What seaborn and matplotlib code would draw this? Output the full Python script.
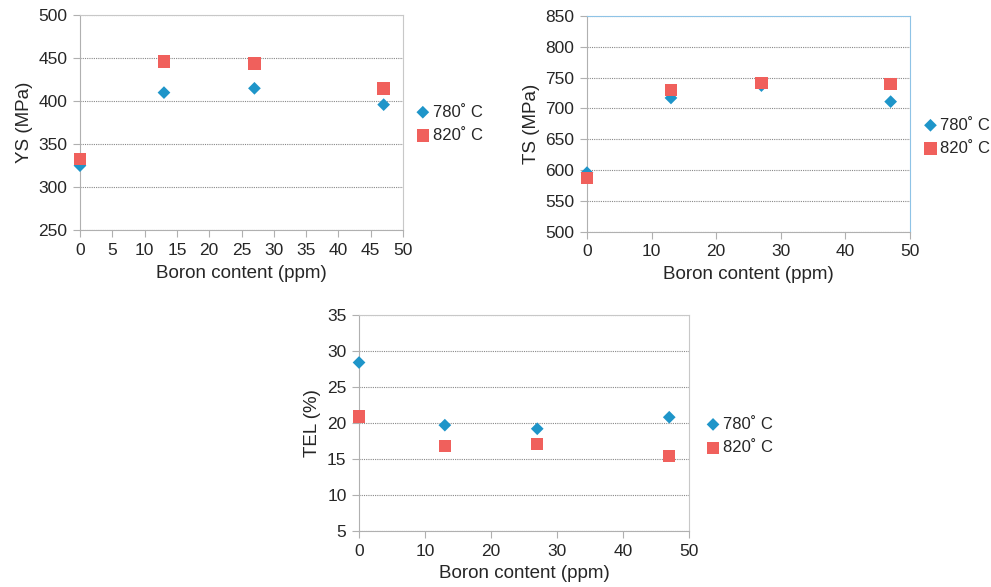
import matplotlib.pyplot as plt
import pandas as pd
import seaborn as sns

# данные с графика
boron = [0, 13, 27, 47]
temps = ['780˚ C', '820˚ C']

ys_780 = [325, 410, 415, 396]
ys_820 = [333, 446, 444, 415]
ts_780 = [596, 717, 737, 711]
ts_820 = [587, 730, 741, 740]
tel_780 = [28.4, 19.7, 19.2, 20.8]
tel_820 = [20.9, 16.8, 17.1, 15.4]

colors = {temps[0]: '#1E95C9', temps[1]: '#F0605C'}
markers = {temps[0]: 'D', temps[1]: 's'}
sizes = {temps[0]: 42, temps[1]: 80}


def make_df(a, b):
    return pd.DataFrame({
        'boron': boron + boron,
        'val': a + b,
        'temp': [temps[0]] * len(a) + [temps[1]] * len(b),
    })


sns.set_style('white')
plt.rcParams['font.family'] = ['Liberation Sans', 'DejaVu Sans']

fig = plt.figure(figsize=(9.91, 5.87), dpi=100)

panels = [
    # (rect, df, ylabel, ylim, ystep, xstep, edge color, legend anchor)
    ([0.0807, 0.608, 0.326, 0.366], make_df(ys_780, ys_820), 'YS (MPa)', (250, 500), 50, 5, '#C8C8C8', (1.038, 0.495)),
    ([0.5923, 0.605, 0.326, 0.368], make_df(ts_780, ts_820), 'TS (MPa)', (500, 850), 50, 10, '#8EC3E6', (1.04, 0.44)),
    ([0.3623, 0.0954, 0.333, 0.368], make_df(tel_780, tel_820), 'TEL (%)', (5, 35), 5, 10, '#C8C8C8', (1.05, 0.44)),
]

for rect, df, ylab, ylim, ystep, xstep, edge, leg in panels:
    ax = fig.add_axes(rect)
    for t in temps:
        sub = df[df['temp'] == t]
        sns.scatterplot(data=sub, x='boron', y='val', ax=ax, color=colors[t],
                        marker=markers[t], s=sizes[t], edgecolor='none',
                        label=t, zorder=3, clip_on=False)
    ax.set_xlim(0, 50)
    ax.set_ylim(*ylim)
    ax.set_xticks(range(0, 51, xstep))
    ax.set_yticks(range(ylim[0], ylim[1] + 1, ystep))
    ax.yaxis.grid(True, linestyle=(0, (1, 1)), color='#888888', linewidth=0.8)
    ax.xaxis.grid(False)
    for s in ['left', 'bottom']:
        ax.spines[s].set_color('#B0B0B0')
    for s in ['top', 'right']:
        ax.spines[s].set_color(edge)
    ax.tick_params(axis='both', direction='out', length=5, color='#B0B0B0',
                   labelsize=12.5, left=True, bottom=True, pad=4)
    ax.set_xlabel('Boron content (ppm)', fontsize=13.5, labelpad=5)
    ax.set_ylabel(ylab, fontsize=13.5, labelpad=4)
    ax.legend(loc='center left', bbox_to_anchor=leg, frameon=False,
              fontsize=12, handletextpad=0.15, labelspacing=0.5,
              borderaxespad=0, borderpad=0, handlelength=0.9)

fig.savefig('out.png', dpi=100)
